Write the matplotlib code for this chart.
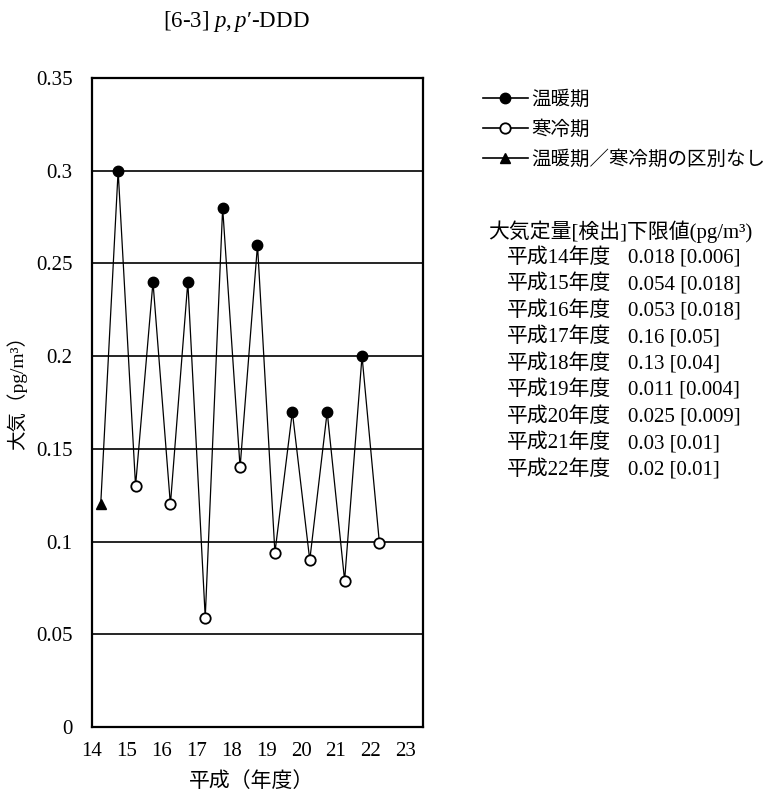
import matplotlib

matplotlib.use("Agg")
import matplotlib.pyplot as plt
from matplotlib.lines import Line2D

plt.rcParams["font.family"] = ["Liberation Serif", "Noto Sans CJK JP"]
plt.rcParams["mathtext.fontset"] = "custom"
plt.rcParams["mathtext.rm"] = "Liberation Serif"
plt.rcParams["mathtext.it"] = "Liberation Serif:italic"

# fiscal years (Heisei) and measured values, pg/m3
warm_years = [14, 15, 16, 17, 18, 19, 20, 21]
warm_values = [0.30, 0.24, 0.24, 0.28, 0.26, 0.17, 0.17, 0.20]
cold_years = [15, 16, 17, 18, 19, 20, 21, 22]
cold_values = [0.13, 0.12, 0.059, 0.14, 0.094, 0.090, 0.079, 0.099]
nodiff_years = [14]
nodiff_values = [0.12]

tick_years = [14, 15, 16, 17, 18, 19, 20, 21, 22, 23]
y_ticks = [0, 0.05, 0.1, 0.15, 0.2, 0.25, 0.3, 0.35]
y_tick_labels = ["0", "0.05", "0.1", "0.15", "0.2", "0.25", "0.3", "0.35"]

limit_years = ["平成14年度", "平成15年度", "平成16年度", "平成17年度", "平成18年度",
               "平成19年度", "平成20年度", "平成21年度", "平成22年度"]
limit_values = ["0.018 [0.006]", "0.054 [0.018]", "0.053 [0.018]", "0.16 [0.05]",
                "0.13 [0.04]", "0.011 [0.004]", "0.025 [0.009]", "0.03 [0.01]",
                "0.02 [0.01]"]

# warm season sits in the second half of the year, cold season in the first half of the next
warm_x = [y + 0.75 for y in warm_years]
cold_x = [y + 0.25 for y in cold_years]
nodiff_x = [y + 0.25 for y in nodiff_years]

points = sorted(zip(warm_x + cold_x + nodiff_x, warm_values + cold_values + nodiff_values))
line_x = [p[0] for p in points]
line_y = [p[1] for p in points]

W, H = 779, 794
fig = plt.figure(figsize=(W / 100, H / 100), dpi=100)
ax = fig.add_axes([92 / W, 1 - 727 / H, (423 - 92) / W, (727 - 78) / H])

fs = 15

for yt in y_ticks[1:-1]:
    ax.axhline(yt, color="black", lw=1.2, zorder=1)

ax.plot(line_x, line_y, color="black", lw=0.9, zorder=2)
ax.plot(warm_x, warm_values, "o", color="black", ms=7.5, zorder=3)
ax.plot(cold_x, cold_values, "o", mfc="white", mec="black", mew=1.3, ms=7.5, zorder=3)
ax.plot(nodiff_x, nodiff_values, "^", color="black", ms=7.5, zorder=3)

ax.set_xlim(14, 23.5)
ax.set_ylim(0, 0.35)
ax.set_xticks(tick_years)
ax.set_xticklabels([str(t) for t in tick_years], fontsize=fs)
ax.set_yticks(y_ticks)
ax.set_yticklabels(y_tick_labels, fontsize=fs)
ax.tick_params(length=0, pad=11)
ax.tick_params(axis="y", pad=14)
for s in ax.spines.values():
    s.set_linewidth(1.6)

fig.text(236 / W, 1 - 22 / H, "[6-3] $\\mathit{p,p}$′-DDD", ha="center", va="center", fontsize=16.5)
fig.text(252 / W, 1 - 782 / H, "平成（年度）", ha="center", va="center", fontsize=fs)
fig.text(17 / W, 1 - 388 / H, "大気（pg/m³）", ha="center", va="center", rotation=90, fontsize=14)

handles = [
    Line2D([], [], color="black", lw=1.2, marker="o", ms=7.5),
    Line2D([], [], color="black", lw=1.2, marker="o", ms=7.5, mfc="white", mew=1.3),
    Line2D([], [], color="black", lw=1.2, marker="^", ms=7.5),
]
labels = ["温暖期", "寒冷期", "温暖期／寒冷期の区別なし"]
fig.legend(handles, labels, loc="upper left", bbox_to_anchor=(483 / W, 1 - 90 / H),
           frameon=False, fontsize=14, handlelength=2.3, handletextpad=0.2,
           labelspacing=0.6, borderaxespad=0, borderpad=0)

fig.text(488 / W, 1 - 232 / H, "大気定量[検出]下限値(pg/m³)", ha="left", va="center", fontsize=fs)
for i, (lab, val) in enumerate(zip(limit_years, limit_values)):
    yy = 1 - (258 + 26.5 * i) / H
    fig.text(507 / W, yy, lab, ha="left", va="center", fontsize=fs)
    fig.text(628 / W, yy, val, ha="left", va="center", fontsize=fs)

fig.savefig("out.png", dpi=100)
